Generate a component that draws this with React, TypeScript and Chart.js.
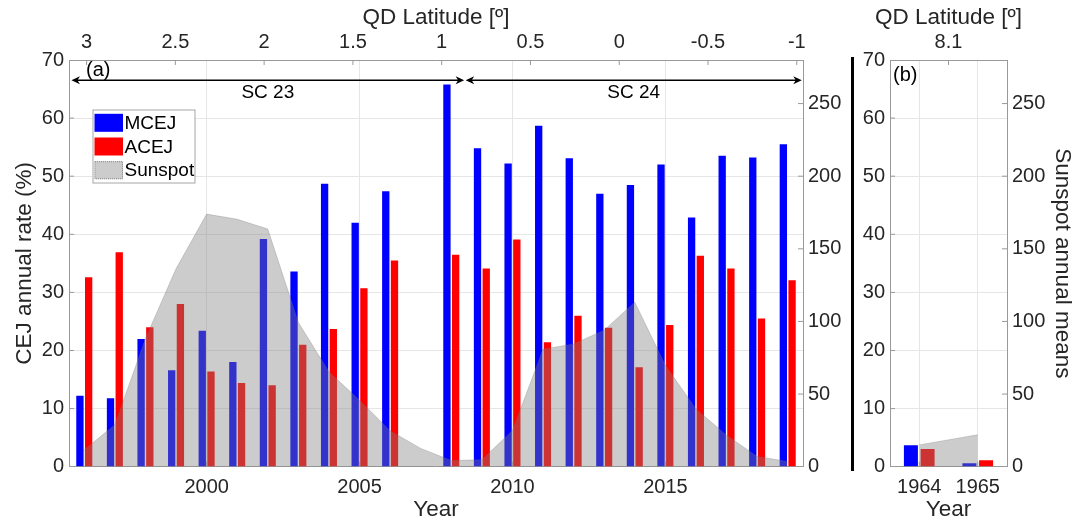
import React, { useEffect, useRef } from 'react'
import Chart, { ChartConfiguration, Plugin } from 'chart.js/auto'

Chart.defaults.font.family = "'Liberation Sans', Arial, Helvetica, sans-serif"
Chart.defaults.color = '#262626'

// panel (a): annual CEJ occurrence, 1996-2019
const years = [
  '1996', '1997', '1998', '1999', '2000', '2001', '2002', '2003',
  '2004', '2005', '2006', '2007', '2008', '2009', '2010', '2011',
  '2012', '2013', '2014', '2015', '2016', '2017', '2018', '2019',
]
const mcejRate = [
  12.2, 11.8, 22.0, 16.6, 23.4, 18.0, 39.2, 33.6,
  48.7, 42.0, 47.4, null, 65.8, 54.8, 52.2, 58.7,
  53.1, 47.0, 48.5, 52.0, 42.9, 53.5, 53.2, 55.5,
]
const acejRate = [
  32.6, 36.9, 24.0, 28.0, 16.4, 14.4, 14.0, 21.0,
  23.7, 30.7, 35.5, null, 36.5, 34.1, 39.1, 21.4,
  26.0, 23.9, 17.1, 24.4, 36.3, 34.1, 25.5, 32.1,
]
const sunspotMean = [
  11.6, 28.9, 88.3, 136.3, 173.9, 170.4, 163.6, 99.3,
  65.3, 45.8, 24.7, 12.6, 4.2, 4.8, 24.9, 80.8,
  84.5, 94.0, 113.3, 69.8, 39.8, 21.7, 7.0, 3.6,
]
const yearTicks = ['2000', '2005', '2010', '2015']
const qdLatTicks = [3, 2.5, 2, 1.5, 1, 0.5, 0, -0.5, -1]
const qdLatRange = [-1.035, 3.099]

const solarCycles = [
  { name: 'SC 23', from: 1995.58, to: 2008.42 },
  { name: 'SC 24', from: 2008.47, to: 2019.46 },
]
const cycleLevel = 66.5

// panel (b): 1964-1965
const years60s = ['1964', '1965']
const mcej60s = [3.7, 0.6]
const acej60s = [3.05, 1.1]
const sunspot60s = [15.0, 22.0]
const qdLat60s = ['8.1']

const BLUE = '#0000ff'
const RED = '#ff0000'
const SPOT = 'rgba(128, 128, 128, 0.4)'
const BOX = '#999999'
const GRID = '#e6e6e6'
const FONT = "'Liberation Sans', Arial, Helvetica, sans-serif"
const TOP_H = 60
const BOTTOM_H = 55.3

interface IPanel {
  categories: string[]
  mcej: (number | null)[]
  acej: (number | null)[]
  sunspot: number[]
  shownYears: string[]
  qdScale: any
  leftW: number
  rightW: number
  yTitle?: string
  y1Title?: string
  y1TitlePad?: number
  tag: string
  tagDx: number
  tagDy: number
  legend?: boolean
  cycles?: typeof solarCycles
}

const Panel: React.FC<IPanel> = (props) => {
  const canvasRef = useRef<HTMLCanvasElement | null>(null)
  const chartRef = useRef<Chart | null>(null)

  useEffect(() => {
    if (!canvasRef.current) return
    if (chartRef.current) chartRef.current.destroy()
    const ctx = canvasRef.current.getContext('2d')
    if (!ctx) return

    const { categories, shownYears } = props
    const firstYear = Number(categories[0])

    // MATLAB-style tick marks pointing into the box
    const innerTicks: Plugin = {
      id: 'innerTicks',
      afterDraw(chart) {
        const c = chart.ctx
        const a = chart.chartArea
        c.save()
        c.strokeStyle = BOX
        c.lineWidth = 1
        Object.values(chart.scales).forEach((s: any) => {
          s.ticks.forEach((t: any) => {
            if (t.label === '' || t.label === undefined) return
            const p = s.getPixelForValue(t.value)
            c.beginPath()
            if (s.position === 'left') {
              if (p <= a.top + 1 || p >= a.bottom - 1) return
              c.moveTo(a.left, p); c.lineTo(a.left + 5, p)
            } else if (s.position === 'right') {
              if (p <= a.top + 1 || p >= a.bottom - 1) return
              c.moveTo(a.right - 5, p); c.lineTo(a.right, p)
            } else if (s.position === 'bottom') {
              c.moveTo(p, a.bottom); c.lineTo(p, a.bottom - 5)
            } else {
              c.moveTo(p, a.top); c.lineTo(p, a.top + 5)
            }
            c.stroke()
          })
        })
        c.restore()
      },
    }

    const decorations: Plugin = {
      id: 'decorations',
      afterDraw(chart) {
        const c = chart.ctx
        const a = chart.chartArea
        c.save()
        c.fillStyle = '#000'
        c.strokeStyle = '#000'

        // top axis title, drawn by hand so it is not squeezed in the narrow panel
        c.font = `22.5px ${FONT}`
        c.textAlign = 'center'
        c.textBaseline = 'middle'
        c.fillStyle = '#262626'
        c.fillText('QD Latitude [º]', (a.left + a.right) / 2, 18)
        c.fillStyle = '#000'

        // solar cycle arrows
        if (props.cycles) {
          const xs: any = chart.scales.x
          const yy = chart.scales.y.getPixelForValue(cycleLevel)
          const head = (tip: number, dir: number) => {
            c.beginPath()
            c.moveTo(tip, yy)
            c.lineTo(tip - dir * 8.5, yy - 4)
            c.lineTo(tip - dir * 6, yy)
            c.lineTo(tip - dir * 8.5, yy + 4)
            c.closePath()
            c.fill()
          }
          props.cycles.forEach((cy) => {
            const x0 = xs.getPixelForValue(cy.from - firstYear)
            const x1 = xs.getPixelForValue(cy.to - firstYear)
            c.lineWidth = 1.5
            c.beginPath()
            c.moveTo(x0 + 4, yy)
            c.lineTo(x1 - 4, yy)
            c.stroke()
            head(x1, 1)
            head(x0, -1)
            c.font = `19px ${FONT}`
            c.textAlign = 'center'
            c.textBaseline = 'middle'
            c.fillText(cy.name, (x0 + x1) / 2, yy + 12)
          })
        }

        // panel tag
        c.font = `20px ${FONT}`
        c.textAlign = 'left'
        c.textBaseline = 'middle'
        c.fillStyle = '#000'
        c.fillText(props.tag, a.left + props.tagDx, a.top + props.tagDy)

        // legend box
        if (props.legend) {
          const x = a.left + 23.5
          const y = a.top + 49.5
          const w = 102
          const h = 73
          c.fillStyle = '#fff'
          c.fillRect(x, y, w, h)
          c.strokeStyle = '#a6a6a6'
          c.lineWidth = 1
          c.strokeRect(x + 0.5, y + 0.5, w, h)
          chart.data.datasets.forEach((ds: any, i: number) => {
            const cy = y + 13.3 + i * 23.7
            c.fillStyle = ds.backgroundColor
            c.fillRect(x + 2, cy - 9, 28.5, 18)
            if (ds.type === 'line') {
              c.save()
              c.setLineDash([1, 1])
              c.strokeStyle = '#8c8c8c'
              c.strokeRect(x + 2.5, cy - 8.5, 27.5, 17)
              c.restore()
            }
            c.fillStyle = '#000'
            c.font = `19px ${FONT}`
            c.textBaseline = 'middle'
            c.fillText(ds.label, x + 32, cy + 1)
          })
        }
        c.restore()
      },
    }

    const config: ChartConfiguration<'bar'> = {
      type: 'bar',
      data: {
        labels: categories,
        datasets: [
          {
            label: 'MCEJ',
            data: props.mcej as any,
            backgroundColor: BLUE,
            borderWidth: 0,
            barPercentage: 0.84,
            categoryPercentage: 0.57,
            xAxisID: 'x',
            yAxisID: 'y',
            order: 1,
          },
          {
            label: 'ACEJ',
            data: props.acej as any,
            backgroundColor: RED,
            borderWidth: 0,
            barPercentage: 0.84,
            categoryPercentage: 0.57,
            xAxisID: 'x',
            yAxisID: 'y',
            order: 1,
          },
          {
            type: 'line' as any,
            label: 'Sunspot',
            data: props.sunspot,
            backgroundColor: SPOT,
            borderColor: 'rgba(110, 110, 110, 0.35)',
            borderWidth: 0.8,
            fill: 'origin',
            pointRadius: 0,
            tension: 0,
            xAxisID: 'x',
            yAxisID: 'y1',
            order: 0,
          } as any,
        ],
      },
      options: {
        responsive: true,
        maintainAspectRatio: false,
        animation: false,
        events: [],
        layout: { padding: 0 },
        plugins: {
          legend: { display: false },
          tooltip: { enabled: false },
        },
        scales: {
          x: {
            type: 'category',
            position: 'bottom',
            offset: true,
            grid: {
              offset: false,
              drawTicks: false,
              color: (c: any) =>
                shownYears.includes(categories[c.index]) ? GRID : 'rgba(0,0,0,0)',
            },
            border: { color: BOX },
            ticks: {
              autoSkip: false,
              maxRotation: 0,
              padding: 9,
              font: { size: 20 },
              callback: (_v: any, i: number) =>
                shownYears.includes(categories[i]) ? categories[i] : '',
            },
            title: {
              display: true,
              text: 'Year',
              font: { size: 22.5 },
              padding: { top: 0, bottom: -1 },
            },
            afterFit: (s: any) => {
              s.height = BOTTOM_H
            },
          },
          x2: {
            ...props.qdScale,
            position: 'top',
            grid: { drawOnChartArea: false, drawTicks: false, offset: false },
            border: { color: BOX },
            title: { display: false },
            afterFit: (s: any) => {
              s.height = TOP_H
            },
          },
          y: {
            position: 'left',
            min: 0,
            max: 70,
            grid: { color: GRID, drawTicks: false },
            border: { color: BOX },
            ticks: { stepSize: 10, padding: 5, font: { size: 20 } },
            title: {
              display: !!props.yTitle,
              text: props.yTitle || '',
              font: { size: 22.5 },
              padding: { top: 11.5, bottom: 0 },
            },
            afterFit: (s: any) => {
              s.width = props.leftW
            },
          },
          y1: {
            position: 'right',
            min: 0,
            max: 280,
            grid: { drawOnChartArea: false, drawTicks: false },
            border: { color: BOX },
            ticks: { stepSize: 50, includeBounds: false, padding: 5, font: { size: 20 } },
            title: {
              display: !!props.y1Title,
              text: props.y1Title || '',
              font: { size: 22.5 },
              padding: { top: props.y1TitlePad ?? 0, bottom: 0 },
            },
            afterFit: (s: any) => {
              s.width = props.rightW
            },
          },
        } as any,
      },
      plugins: [innerTicks, decorations],
    }

    chartRef.current = new Chart(ctx, config)

    return () => {
      if (chartRef.current) {
        chartRef.current.destroy()
        chartRef.current = null
      }
    }
  }, [props])

  return <canvas ref={canvasRef} />
}

const qdScaleA = {
  type: 'linear',
  reverse: true,
  offset: false,
  min: qdLatRange[0],
  max: qdLatRange[1],
  afterBuildTicks: (s: any) => {
    s.ticks = qdLatTicks.map((v) => ({ value: v }))
  },
  ticks: {
    padding: 6,
    font: { size: 20 },
    callback: (v: any) => String(v),
  },
}

const qdScaleB = {
  type: 'category',
  labels: qdLat60s,
  offset: true,
  ticks: { padding: 6, font: { size: 20 } },
}

export default function App() {
  return (
    <div
      style={{
        position: 'absolute',
        left: 0,
        top: 0,
        width: 1086,
        height: 522,
        background: '#fff',
      }}
    >
      <div style={{ position: 'absolute', left: 0, top: 0, width: 856, height: 522 }}>
        <Panel
          categories={years}
          mcej={mcejRate}
          acej={acejRate}
          sunspot={sunspotMean}
          shownYears={yearTicks}
          qdScale={qdScaleA}
          leftW={69}
          rightW={53}
          yTitle="CEJ annual rate (%)"
          tag="(a)"
          tagDx={17}
          tagDy={10}
          legend
          cycles={solarCycles}
        />
      </div>
      <div style={{ position: 'absolute', left: 856, top: 0, width: 230, height: 522 }}>
        <Panel
          categories={years60s}
          mcej={mcej60s}
          acej={acej60s}
          sunspot={sunspot60s}
          shownYears={years60s}
          qdScale={qdScaleB}
          leftW={34}
          rightW={79}
          y1Title="Sunspot annual means"
          y1TitlePad={10}
          tag="(b)"
          tagDx={3}
          tagDy={15}
        />
      </div>
      <div
        style={{
          position: 'absolute',
          left: 851,
          top: 57,
          width: 3,
          height: 414,
          background: '#000',
        }}
      />
    </div>
  )
}
